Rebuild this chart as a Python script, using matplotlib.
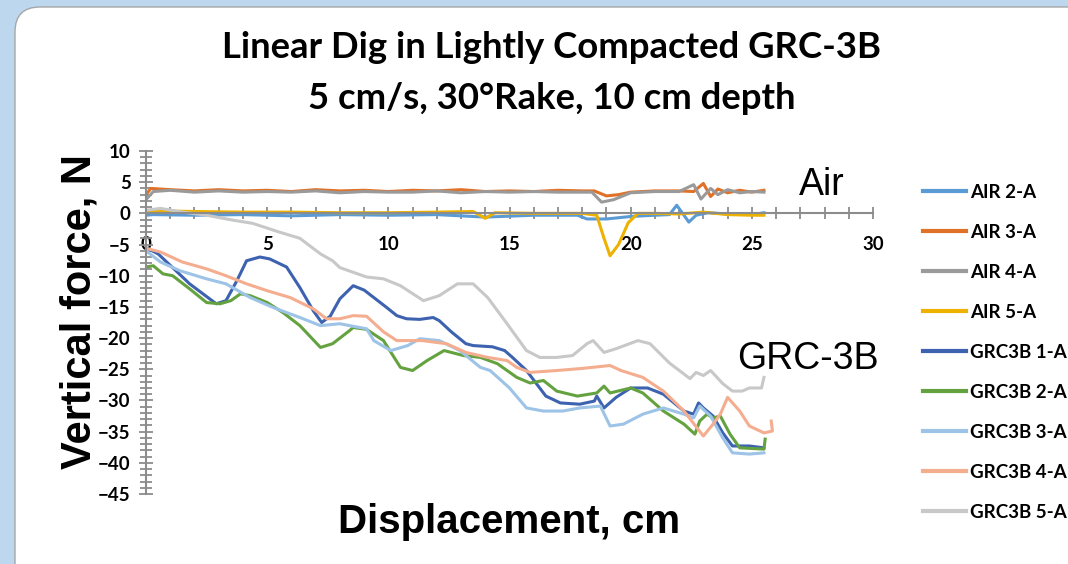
"""Linear dig vertical force traces, air vs lightly compacted GRC-3B."""

import matplotlib.pyplot as plt
from matplotlib.patches import FancyBboxPatch
from matplotlib.ticker import MultipleLocator

# --- air runs -------------------------------------------------------------
air2_x = [0, 0.3, 2, 4, 6, 8, 10, 12, 14, 16, 17.8, 18.2, 19, 20, 21, 21.6,
          21.9, 22.2, 22.4, 22.7, 23.2, 24, 25, 25.5]
air2_y = [-0.3, -0.2, -0.3, -0.2, -0.4, -0.2, -0.3, -0.2, -0.6, -0.3, -0.3,
          -0.9, -0.9, -0.5, -0.3, -0.2, 1.3, -0.3, -1.4, -0.3, 0.1, -0.1, -0.2, 0.1]

air3_x = [0, 0.2, 1, 2, 3, 4, 5, 6, 7, 8, 9, 10, 11, 12, 13, 14, 15, 16, 17,
          18, 18.5, 19.0, 19.5, 20, 21, 22, 22.6, 23.0, 23.3, 23.6, 24, 24.5, 25, 25.5]
air3_y = [3.0, 4.0, 3.8, 3.6, 3.8, 3.6, 3.7, 3.5, 3.8, 3.6, 3.7, 3.5, 3.7, 3.6,
          3.8, 3.5, 3.6, 3.5, 3.7, 3.6, 3.6, 2.8, 3.0, 3.4, 3.6, 3.6, 3.5, 4.8,
          2.7, 3.9, 3.3, 3.7, 3.4, 3.7]

air4_x = [0, 0.3, 1, 2, 3, 4, 5, 6, 7, 8, 9, 10, 11, 12, 13, 14, 15, 16, 17,
          18.0, 18.4, 18.8, 19.3, 20, 21, 22, 22.6, 22.9, 23.3, 23.6, 24, 24.5, 25, 25.5]
air4_y = [2.2, 3.5, 3.7, 3.4, 3.6, 3.4, 3.5, 3.4, 3.6, 3.3, 3.5, 3.4, 3.4, 3.6,
          3.3, 3.5, 3.4, 3.5, 3.4, 3.4, 3.4, 1.8, 2.2, 3.3, 3.5, 3.5, 4.6, 2.3,
          4.0, 3.0, 3.8, 3.3, 3.5, 3.4]

air5_x = [0, 0.5, 2, 4, 6, 8, 10, 12, 13.5, 14.0, 14.4, 16, 18, 18.6, 18.9,
          19.15, 19.5, 19.9, 20.3, 21, 22, 23, 24, 25, 25.5]
air5_y = [0.3, 0.4, 0.3, 0.2, 0.2, 0.1, 0.1, 0.2, 0.3, -0.8, 0.1, 0.0, 0.0,
          -0.3, -4.0, -6.8, -5.0, -1.5, 0.0, 0.0, -0.1, 0.2, -0.2, -0.3, -0.3]

# --- GRC-3B runs ----------------------------------------------------------
grc1_x = [0, 0.5, 1.1, 1.8, 2.9, 3.3, 3.75, 4.15, 4.7, 5.1, 5.8, 6.35, 6.9,
          7.25, 7.6, 8.0, 8.55, 9.0, 9.4, 9.9, 10.35, 10.75, 11.3, 11.85, 12.1,
          12.6, 13.2, 13.5, 14.3, 14.8, 15.15, 15.7, 16.5, 17.1, 17.9, 18.5,
          18.6, 18.9, 19.4, 20.0, 20.7, 21.35, 22.2, 22.6, 22.8, 23.0, 23.4,
          23.8, 24.2, 24.9, 25.5]
grc1_y = [-5.5, -6.5, -8.7, -11.3, -14.5, -14.0, -10.8, -7.6, -7.0, -7.3,
          -8.6, -11.9, -15.6, -17.5, -16.5, -13.7, -11.6, -12.3, -13.5, -15.0,
          -16.4, -16.9, -17.0, -16.7, -17.2, -19.0, -20.9, -21.2, -21.4, -22.0,
          -23.2, -25.2, -29.3, -30.4, -30.6, -30.1, -29.3, -31.2, -29.5, -28.0,
          -28.0, -29.0, -31.7, -32.2, -30.4, -31.2, -32.5, -35.2, -37.3, -37.3,
          -37.6]

grc2_x = [0, 0.3, 0.7, 1.1, 1.8, 2.5, 3.05, 3.5, 3.9, 4.3, 5.0, 5.65, 6.35,
          7.2, 7.7, 8.4, 8.55, 9.1, 9.8, 10.5, 11.0, 11.6, 12.3, 13.1, 13.8,
          14.5, 15.3, 15.85, 16.4, 16.95, 17.8, 18.6, 18.9, 19.15, 20.0, 20.5,
          21.35, 22.2, 22.65, 22.85, 23.15, 23.4, 23.7, 24.1, 24.5, 25.5, 25.55]
grc2_y = [-8.6, -8.4, -9.7, -10.0, -12.1, -14.3, -14.5, -14.0, -12.9, -13.2,
          -14.3, -15.9, -18.0, -21.5, -20.9, -18.8, -18.3, -18.6, -20.4, -24.7,
          -25.2, -23.6, -22.0, -22.8, -23.1, -24.1, -26.3, -27.2, -26.8, -28.5,
          -29.3, -28.8, -27.7, -28.8, -28.0, -28.8, -31.7, -33.8, -35.4, -33.3,
          -32.2, -32.8, -32.5, -35.4, -37.6, -37.8, -36.2]

grc3_x = [0, 0.6, 1.4, 2.5, 3.3, 4.3, 5.25, 6.35, 7.2, 8.0, 8.4, 9.1, 9.4,
          10.1, 10.8, 11.3, 12.1, 12.95, 13.8, 14.2, 15.0, 15.7, 16.4, 17.2,
          17.9, 18.75, 19.15, 19.7, 20.5, 21.35, 22.2, 22.6, 22.85, 23.3, 23.8,
          24.2, 24.9, 25.5]
grc3_y = [-6.0, -7.8, -9.2, -10.5, -11.3, -13.5, -15.1, -16.7, -18.0, -17.7,
          -18.0, -18.5, -20.4, -22.0, -21.2, -20.1, -20.4, -22.0, -24.7, -25.2,
          -28.0, -31.2, -31.7, -31.7, -31.2, -30.9, -34.1, -33.8, -32.2, -31.2,
          -32.2, -32.8, -30.9, -32.5, -36.0, -38.4, -38.6, -38.4]

grc4_x = [0, 0.6, 1.5, 2.5, 3.3, 4.15, 5.0, 5.95, 6.9, 7.45, 8.0, 8.55, 9.1,
          9.8, 10.35, 11.4, 12.4, 13.2, 14.1, 14.9, 15.3, 15.85, 16.95, 17.9,
          19.15, 19.6, 20.5, 21.35, 22.2, 23.0, 23.4, 23.7, 24.0, 24.5, 24.9,
          25.5, 25.85, 25.8]
grc4_y = [-5.6, -6.2, -7.8, -8.9, -10.0, -11.3, -12.4, -13.5, -15.3, -16.9,
          -16.9, -16.4, -16.5, -19.0, -20.4, -20.4, -20.9, -22.3, -23.1, -23.6,
          -24.7, -25.5, -25.2, -24.9, -24.4, -25.2, -26.3, -28.5, -31.7, -35.7,
          -33.8, -32.2, -29.5, -31.7, -34.1, -35.2, -34.9, -33.3]

grc5_x = [0, 0.6, 1.5, 2.5, 3.6, 4.4, 5.5, 6.35, 7.2, 7.7, 8.0, 9.1, 9.8,
          10.5, 11.45, 12.1, 12.85, 13.5, 14.1, 14.9, 15.7, 16.25, 16.95, 17.6,
          18.2, 18.45, 18.9, 19.4, 20.3, 20.8, 21.6, 22.45, 22.7, 23.0, 23.3,
          23.8, 24.2, 24.6, 24.9, 25.4, 25.5]
grc5_y = [0.5, 0.8, 0.2, -0.3, -1.1, -1.6, -3.0, -4.0, -6.5, -7.6, -8.7,
          -10.2, -10.5, -11.6, -14.0, -13.2, -11.3, -11.3, -13.5, -17.7, -22.0,
          -23.1, -23.1, -22.8, -20.9, -20.4, -22.3, -21.7, -20.4, -20.9, -24.0,
          -26.5, -25.5, -26.0, -25.2, -27.3, -28.5, -28.5, -28.0, -28.0, -26.3]

series = [
    ("AIR 2-A", air2_x, air2_y, "#5B9BD5"),
    ("AIR 3-A", air3_x, air3_y, "#E07128"),
    ("AIR 4-A", air4_x, air4_y, "#9A9A9A"),
    ("AIR 5-A", air5_x, air5_y, "#EDB200"),
    ("GRC3B 1-A", grc1_x, grc1_y, "#3C62B0"),
    ("GRC3B 2-A", grc2_x, grc2_y, "#63A23F"),
    ("GRC3B 3-A", grc3_x, grc3_y, "#9DC3E6"),
    ("GRC3B 4-A", grc4_x, grc4_y, "#F4AD8E"),
    ("GRC3B 5-A", grc5_x, grc5_y, "#C8C8C8"),
]

BODY_FONT = "Lato"
LABEL_FONT = "Liberation Sans"
AXIS_GRAY = "#8C8C8C"

fig = plt.figure(figsize=(10.68, 5.64), dpi=100, facecolor="#BDD7EE")

# white rounded chart panel, kept behind the axes
panel = FancyBboxPatch((0.15, -0.3), 11.0, 5.87,
                       boxstyle="round,pad=0,rounding_size=0.25",
                       transform=fig.dpi_scale_trans, zorder=-10,
                       facecolor="white", edgecolor="#A6A6A6", linewidth=1.0)
fig.patches.append(panel)

ax = fig.add_axes([146 / 1068, 1 - 494 / 564, (873 - 146) / 1068, (494 - 151) / 564])
ax.set_facecolor("none")

handles = []
for name, xs, ys, color in series:
    (line,) = ax.plot(xs, ys, color=color, linewidth=2.2, label=name,
                      solid_joinstyle="round")
    handles.append(line)

ax.set_xlim(0, 30)
ax.set_ylim(-45, 10)

for side in ("top", "right"):
    ax.spines[side].set_visible(False)
ax.spines["bottom"].set_position(("data", 0))
ax.spines["left"].set_color(AXIS_GRAY)
ax.spines["bottom"].set_color(AXIS_GRAY)
ax.spines["left"].set_linewidth(1.5)
ax.spines["bottom"].set_linewidth(1.5)

ax.xaxis.set_major_locator(MultipleLocator(5))
ax.xaxis.set_minor_locator(MultipleLocator(1))
ax.yaxis.set_major_locator(MultipleLocator(5))
ax.yaxis.set_minor_locator(MultipleLocator(1))
ax.tick_params(axis="x", which="both", direction="inout", length=8,
               width=1.3, color=AXIS_GRAY, pad=12)
ax.tick_params(axis="y", which="major", direction="inout", length=10,
               width=1.3, color=AXIS_GRAY, pad=6)
ax.tick_params(axis="y", which="minor", direction="inout", length=8,
               width=1.3, color=AXIS_GRAY)

for lbl in ax.get_xticklabels() + ax.get_yticklabels():
    lbl.set_fontfamily(BODY_FONT)
    lbl.set_fontweight("bold")
    lbl.set_fontsize(13.5)

fig.text(552 / 1068, 1 - 48 / 564, "Linear Dig in Lightly Compacted GRC-3B",
         ha="center", va="center", fontsize=26.3, fontweight="bold", family=BODY_FONT)
fig.text(552 / 1068, 1 - 99 / 564, "5 cm/s, 30°Rake, 10 cm depth",
         ha="center", va="center", fontsize=26.3, fontweight="bold", family=BODY_FONT)

fig.text(80 / 1068, 1 - 312 / 564, "Vertical force, N", rotation=90,
         ha="center", va="center", fontsize=30, fontweight="bold", family=LABEL_FONT)
fig.text(509 / 1068, 1 - 522 / 564, "Displacement, cm",
         ha="center", va="center", fontsize=29, fontweight="bold", family=LABEL_FONT)

ax.text(27.9, 4.6, "Air", ha="center", va="center", fontsize=27, family=LABEL_FONT)
ax.text(27.3, -23.3, "GRC-3B", ha="center", va="center", fontsize=27, family=LABEL_FONT)

leg = fig.legend(handles=handles, loc="upper left",
                 bbox_to_anchor=(915 / 1068, 1 - 176 / 564),
                 frameon=False, handlelength=2.3, handletextpad=0.25,
                 labelspacing=1.23, borderaxespad=0,
                 prop={"family": BODY_FONT, "weight": "bold", "size": 13.5})
for legline in leg.get_lines():
    legline.set_linewidth(3)

fig.savefig("out.png", dpi=100, facecolor=fig.get_facecolor())
